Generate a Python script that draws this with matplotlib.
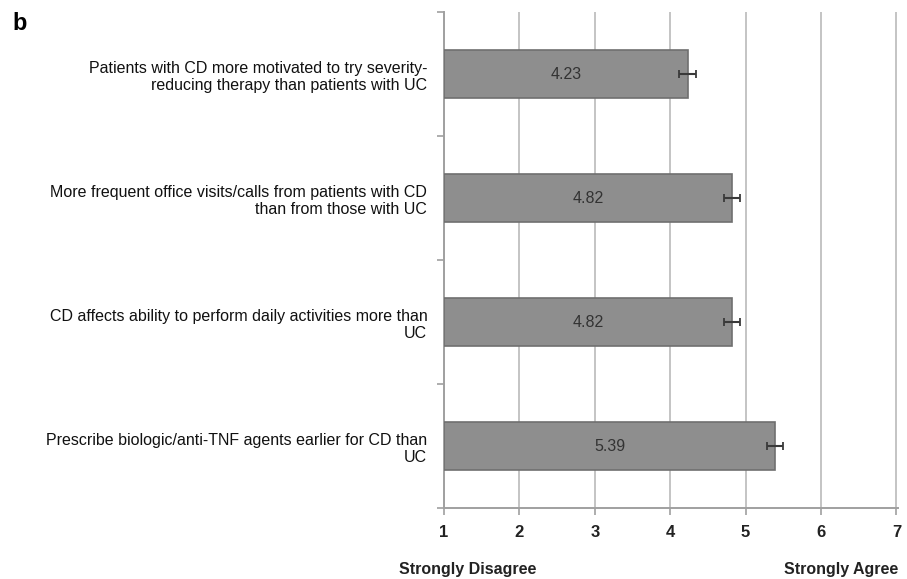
import matplotlib.pyplot as plt
import numpy as np

plt.rcParams['font.family'] = ['Liberation Sans', 'DejaVu Sans']

statements = [
    'Patients with CD more motivated to try severity-\nreducing therapy than patients with UC',
    'More frequent office visits/calls from patients with CD\nthan from those with UC',
    'CD affects ability to perform daily activities more than\nUC',
    'Prescribe biologic/anti-TNF agents earlier for CD than\nUC',
]
scores = [4.23, 4.82, 4.82, 5.39]
errors = [0.11, 0.11, 0.11, 0.11]
xticks = [1, 2, 3, 4, 5, 6, 7]

fig = plt.figure(figsize=(9.07, 5.79), dpi=100)
ax = fig.add_axes([0.4895, 0.1226, 0.5005, 0.8565])

y = np.arange(len(scores))[::-1]
base = 1
ax.barh(y, np.array(scores) - base, left=base, height=0.39,
        color='#8e8e8e', edgecolor='#6f6f6f', linewidth=1.2, zorder=3)
ax.errorbar(scores, y, xerr=errors, fmt='none', ecolor='#3a3a3a',
            elinewidth=1.5, capsize=3, capthick=1.3, zorder=4)

for yi, v in zip(y, scores):
    ax.text((base + v) / 2, yi, f'{v:.2f}', ha='center', va='center',
            fontsize=11.5, color='#333333', zorder=5)

ax.set_xlim(1, 7.02)
ax.set_ylim(-0.5, len(scores) - 0.5)
ax.set_xticks(xticks)
ax.set_xticklabels([str(t) for t in xticks], fontsize=12, fontweight='bold',
                   color='#222222')
ax.set_yticks(y)
ax.set_yticklabels(statements, fontsize=11.5, color='#111111', linespacing=1.2)
ax.set_yticks(np.arange(-0.5, len(scores), 1.0), minor=True)
ax.tick_params(axis='y', which='major', length=0, pad=12)
ax.tick_params(axis='y', which='minor', length=5, color='#a0a0a0', width=1.2)
ax.tick_params(axis='x', length=5, color='#a0a0a0', width=1.2, pad=7)

ax.grid(axis='x', color='#c4c4c4', linewidth=1.4, zorder=0)
for side in ['top', 'right']:
    ax.spines[side].set_visible(False)
for side in ['left', 'bottom']:
    ax.spines[side].set_color('#a0a0a0')
    ax.spines[side].set_linewidth(1.4)

fig.text(0.44, 0.004, 'Strongly Disagree', fontsize=11.5, fontweight='bold',
         color='#222222', ha='left', va='bottom')
fig.text(0.99, 0.004, 'Strongly Agree', fontsize=11.5, fontweight='bold',
         color='#222222', ha='right', va='bottom')
fig.text(0.014, 0.96, 'b', fontsize=17, fontweight='bold', ha='left', va='center')

fig.savefig('out.png', dpi=100)
